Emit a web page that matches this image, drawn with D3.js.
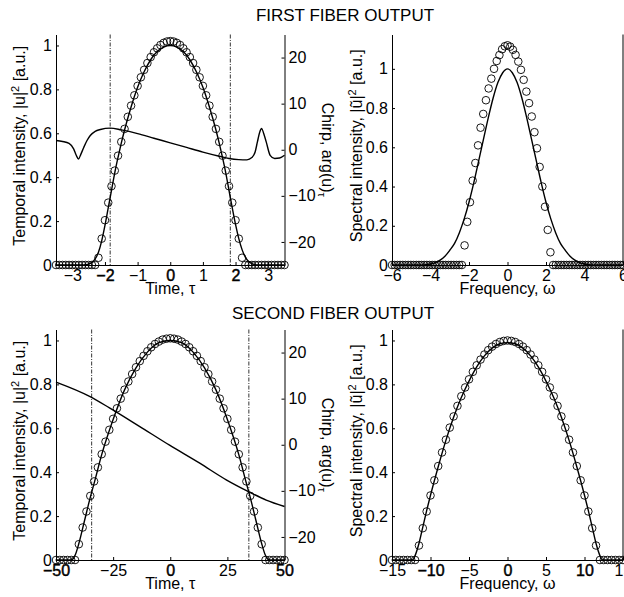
<!DOCTYPE html>
<html><head><meta charset="utf-8">
<script src="https://cdn.jsdelivr.net/npm/d3@7"></script>
<style>
body{margin:0;background:#fff;}
svg{display:block;font-family:"Liberation Sans",Arial,Helvetica,sans-serif;}
</style></head><body>
<svg id="chart" width="624" height="597"></svg>
<script>
// ---------- DATA ----------
const titles = ["FIRST FIBER OUTPUT", "SECOND FIBER OUTPUT"];

// Tick values
const timeTicks1 = [-3, -2, -1, 0, 1, 2, 3];
const timeTicks2 = [-50, -25, 0, 25, 50];
const freqTicks1 = [-6, -4, -2, 0, 2, 4, 6];
const freqTicks2 = [-15, -10, -5, 0, 5, 10, 15];
const intensityTicks = [0, 0.2, 0.4, 0.6, 0.8, 1];
const chirpTicks = [-20, -10, 0, 10, 20];
const boldTime1 = [-2, 0, 2];
const boldTime2 = [-50, 0, 50];
const boldFreq1 = [];
const boldFreq2 = [-10, 0, 10];

// First fiber output: temporal intensity (circles = fit, line = simulation)
const tau1Grid = [-3.5,-3.4,-3.3,-3.2,-3.1,-3.0,-2.9,-2.8,-2.7,-2.6,-2.5,-2.4,-2.3,-2.2,-2.1,-2.0,-1.9,-1.8,-1.7,-1.6,-1.5,-1.4,-1.3,-1.2,-1.1,-1.0,-0.9,-0.8,-0.7,-0.6,-0.5,-0.4,-0.3,-0.2,-0.1,0,0.1,0.2,0.3,0.4,0.5,0.6,0.7,0.8,0.9,1.0,1.1,1.2,1.3,1.4,1.5,1.6,1.7,1.8,1.9,2.0,2.1,2.2,2.3,2.4,2.5,2.6,2.7,2.8,2.9,3.0,3.1,3.2,3.3,3.4,3.5];
const int1Circles = [0,0,0,0,0,0,0,0,0,0,0,0,0,0.033,0.120,0.204,0.284,0.359,0.430,0.498,0.561,0.620,0.675,0.726,0.773,0.816,0.855,0.889,0.920,0.947,0.969,0.987,1.002,1.012,1.018,1.020,1.018,1.012,1.002,0.987,0.969,0.947,0.920,0.889,0.855,0.816,0.773,0.726,0.675,0.620,0.561,0.498,0.430,0.359,0.284,0.204,0.120,0.033,0,0,0,0,0,0,0,0,0,0,0,0,0];
const tau1Line = [-3.5,-2.7,-2.6,-2.5,-2.4,-2.3,-2.2,-2.1,-2.0,-1.9,-1.8,-1.7,-1.6,-1.5,-1.4,-1.2,-1.0,-0.8,-0.6,-0.4,-0.2,0,0.2,0.4,0.6,0.8,1.0,1.2,1.4,1.5,1.6,1.7,1.8,1.9,2.0,2.1,2.2,2.3,2.4,2.5,2.6,2.7,3.5];
const int1Line = [0,0,0.001,0.004,0.012,0.028,0.058,0.11,0.18,0.26,0.34,0.42,0.49,0.555,0.615,0.72,0.81,0.88,0.935,0.972,0.993,1.0,0.993,0.972,0.935,0.88,0.81,0.72,0.615,0.555,0.49,0.42,0.34,0.26,0.185,0.12,0.07,0.036,0.016,0.006,0.002,0,0];
const tau1Chirp = [-3.5,-3.3,-3.1,-2.96,-2.88,-2.81,-2.74,-2.65,-2.55,-2.45,-2.3,-2.14,-1.84,-1.5,-1.0,-0.5,0,0.5,1.0,1.5,1.8,2.1,2.35,2.5,2.6,2.67,2.74,2.8,2.86,2.94,3.06,3.2,3.35,3.5];
const chirp1 = [2.0,1.8,1.4,0.2,-1.2,-2.0,-1.0,0.5,2.0,3.1,4.0,4.4,4.7,4.3,3.5,2.5,1.5,0.5,-0.5,-1.4,-1.9,-2.15,-2.2,-1.7,-0.5,1.7,3.8,4.6,3.6,1.7,-1.2,-1.9,-1.8,-1.2];
const markers1 = [-1.84, 1.84];

// First fiber output: spectral intensity
const omega1Grid = [-6.00,-5.86,-5.72,-5.58,-5.44,-5.30,-5.16,-5.02,-4.88,-4.74,-4.60,-4.47,-4.33,-4.19,-4.05,-3.91,-3.77,-3.63,-3.49,-3.35,-3.21,-3.07,-2.93,-2.79,-2.65,-2.51,-2.37,-2.23,-2.09,-1.95,-1.81,-1.67,-1.53,-1.40,-1.26,-1.12,-0.98,-0.84,-0.70,-0.56,-0.42,-0.28,-0.14,0,0.14,0.28,0.42,0.56,0.70,0.84,0.98,1.12,1.26,1.40,1.53,1.67,1.81,1.95,2.09,2.23,2.37,2.51,2.65,2.79,2.93,3.07,3.21,3.35,3.49,3.63,3.77,3.91,4.05,4.19,4.33,4.47,4.60,4.74,4.88,5.02,5.16,5.30,5.44,5.58,5.72,5.86,6.00];
const spec1Circles = [0,0,0,0,0,0,0,0,0,0,0,0,0,0,0,0,0,0,0,0,0,0,0,0,0,0,0,0.10,0.22,0.32,0.43,0.52,0.61,0.70,0.77,0.84,0.90,0.95,1.00,1.04,1.07,1.10,1.115,1.12,1.113,1.097,1.071,1.037,0.995,0.944,0.884,0.825,0.757,0.677,0.595,0.50,0.40,0.297,0.179,0.065,0,0,0,0,0,0,0,0,0,0,0,0,0,0,0,0,0,0,0,0,0,0,0,0,0,0,0];
const omega1Line = [-6,-4.5,-4.25,-4.0,-3.75,-3.5,-3.25,-3.0,-2.75,-2.5,-2.25,-2.0,-1.75,-1.5,-1.25,-1.0,-0.75,-0.5,-0.25,0,0.25,0.5,0.75,1.0,1.25,1.5,1.75,2.0,2.25,2.5,2.75,3.0,3.25,3.5,3.75,4.0,4.25,4.5,6];
const spec1Line = [0,0,0.001,0.005,0.012,0.025,0.045,0.075,0.11,0.165,0.235,0.32,0.42,0.53,0.64,0.75,0.85,0.93,0.98,1.0,0.98,0.93,0.85,0.75,0.64,0.53,0.42,0.32,0.235,0.165,0.11,0.075,0.045,0.025,0.012,0.005,0.001,0,0];

// Second fiber output: temporal intensity
const tau2Grid = [-50,-48.33,-46.67,-45,-43.33,-41.67,-40,-38.33,-36.67,-35,-33.33,-31.67,-30,-28.33,-26.67,-25,-23.33,-21.67,-20,-18.33,-16.67,-15,-13.33,-11.67,-10,-8.33,-6.67,-5,-3.33,-1.67,0,1.67,3.33,5,6.67,8.33,10,11.67,13.33,15,16.67,18.33,20,21.67,23.33,25,26.67,28.33,30,31.67,33.33,35,36.67,38.33,40,41.67,43.33,45,46.67,48.33,50];
const int2Circles = [0,0,0,0,0,0,0.072,0.148,0.221,0.292,0.358,0.422,0.482,0.539,0.593,0.643,0.691,0.735,0.776,0.813,0.847,0.878,0.906,0.930,0.951,0.969,0.984,0.995,1.004,1.008,1.010,1.008,1.004,0.995,0.984,0.969,0.951,0.930,0.906,0.878,0.847,0.813,0.776,0.735,0.691,0.643,0.593,0.539,0.482,0.422,0.358,0.292,0.221,0.148,0.072,0,0,0,0,0,0];
const tau2Line = [-50,-43.5,-42.5,-41.5,-40,-37.5,-35,-33.3,-30,-25,-20,-15,-10,-5,0,5,10,15,20,25,30,33.3,35,37.5,40,41.5,42.5,43.5,50];
const int2Line = [0,0,0.006,0.025,0.075,0.18,0.285,0.35,0.48,0.64,0.775,0.875,0.947,0.99,1.0,0.99,0.947,0.875,0.775,0.64,0.48,0.35,0.285,0.18,0.075,0.025,0.006,0,0];
const tau2Chirp = [-50,-35.3,-26.6,-13.5,-0.3,12.9,24.5,34,42,50];
const chirp2 = [13.6,10.5,8.0,4.0,-0.1,-4.0,-7.6,-10.1,-12.0,-13.4];
const markers2 = [-34.4, 34.4];

// Second fiber output: spectral intensity
const omega2Grid = [-15,-14.5,-14,-13.5,-13,-12.5,-12,-11.5,-11,-10.5,-10,-9.5,-9,-8.5,-8,-7.5,-7,-6.5,-6,-5.5,-5,-4.5,-4,-3.5,-3,-2.5,-2,-1.5,-1,-0.5,0,0.5,1,1.5,2,2.5,3,3.5,4,4.5,5,5.5,6,6.5,7,7.5,8,8.5,9,9.5,10,10.5,11,11.5,12,12.5,13,13.5,14,14.5,15];
const spec2Circles = [0,0,0,0,0,0,0,0.066,0.145,0.221,0.294,0.363,0.428,0.490,0.548,0.603,0.654,0.702,0.746,0.786,0.823,0.857,0.887,0.913,0.936,0.956,0.972,0.984,0.993,0.998,1.0,0.998,0.993,0.984,0.972,0.956,0.936,0.913,0.887,0.857,0.823,0.786,0.746,0.702,0.654,0.603,0.548,0.490,0.428,0.363,0.294,0.221,0.145,0.066,0,0,0,0,0,0,0];
const omega2Line = [-15,-12.5,-12.2,-12,-11.5,-11,-10.5,-10,-9,-8,-7,-6,-5,-4,-3,-2,-1,0,1,2,3,4,5,6,7,8,9,10,10.5,11,11.5,12,12.2,12.5,15];
const spec2Line = [0,0,0.005,0.02,0.075,0.15,0.225,0.295,0.425,0.545,0.65,0.74,0.815,0.88,0.93,0.965,0.985,0.99,0.985,0.965,0.93,0.88,0.815,0.74,0.65,0.545,0.425,0.295,0.225,0.15,0.075,0.02,0.005,0,0];

// ---------- DRAWING ----------
const svg = d3.select("#chart");
const FS = 16;
const fmt = d => String(d).replace("-", "\u2212");
const zip = (xs, ys) => xs.map((v, i) => [v, ys[i]]);

function styleAxis(sel, bold) {
  sel.attr("font-size", FS).attr("font-family", null);
  sel.select(".domain").attr("stroke", "#000").attr("stroke-width", 1);
  sel.selectAll(".tick line").attr("stroke", "#000");
  sel.selectAll(".tick text").attr("fill", "#000");
  if (bold) sel.selectAll(".tick text").filter(d => bold.includes(d))
    .attr("stroke", "#000").attr("stroke-width", 0.45);
}

function drawPanel(p) {
  const g = svg.append("g");
  const x = d3.scaleLinear().domain(p.xDomain).range([p.left, p.right]);
  const y = d3.scaleLinear().domain(p.yDomain).range([p.bottom, p.top]);

  g.append("g").attr("transform", `translate(0,${p.bottom})`)
    .call(d3.axisBottom(x).tickValues(p.xTicks).tickFormat(fmt)
      .tickSizeInner(-3).tickSizeOuter(0).tickPadding(5))
    .call(s => styleAxis(s, p.bold));
  g.append("g").attr("transform", `translate(${p.left},0)`)
    .call(d3.axisLeft(y).tickValues(intensityTicks).tickFormat(fmt)
      .tickSizeInner(-3).tickSizeOuter(0).tickPadding(4))
    .call(s => styleAxis(s, null));

  let yc = null;
  if (p.chirp) {
    yc = d3.scaleLinear().domain([-25, 25]).range([p.bottom, p.top]);
    g.append("g").attr("transform", `translate(${p.right},0)`)
      .call(d3.axisRight(yc).tickValues(chirpTicks).tickFormat(fmt)
        .tickSizeInner(-3).tickSizeOuter(0).tickPadding(4))
      .call(s => styleAxis(s, null));
  } else {
    g.append("line").attr("x1", p.right).attr("x2", p.right)
      .attr("y1", p.top).attr("y2", p.bottom).attr("stroke", "#000").attr("stroke-width", 1);
  }

  if (p.markers) {
    g.selectAll(".mk").data(p.markers).join("line")
      .attr("x1", d => x(d)).attr("x2", d => x(d))
      .attr("y1", p.top).attr("y2", p.bottom)
      .attr("stroke", "#000").attr("stroke-width", 0.8)
      .attr("stroke-dasharray", "4,1.5,1,1.5");
  }

  const line = d3.line().x(d => x(d[0])).y(d => y(d[1])).curve(d3.curveMonotoneX);
  g.append("path").datum(zip(p.lineX, p.lineY)).attr("d", line)
    .attr("fill", "none").attr("stroke", "#000").attr("stroke-width", 1.4);

  if (p.chirp) {
    const cl = d3.line().x(d => x(d[0])).y(d => yc(d[1])).curve(d3.curveMonotoneX);
    g.append("path").datum(zip(p.chirp[0], p.chirp[1])).attr("d", cl)
      .attr("fill", "none").attr("stroke", "#000").attr("stroke-width", 1.4);
  }

  g.selectAll(".pt").data(zip(p.circX, p.circY)).join("circle")
    .attr("cx", d => x(d[0])).attr("cy", d => y(d[1])).attr("r", 3.8)
    .attr("fill", "none").attr("stroke", "#000").attr("stroke-width", 0.9);

  g.append("text").attr("x", (p.left + p.right) / 2).attr("y", p.bottom + 28.5)
    .attr("text-anchor", "middle").attr("font-size", FS).text(p.xLabel);

  const yl = g.append("text").attr("font-size", FS).attr("text-anchor", "middle")
    .attr("transform", `translate(${p.yLabelX},${(p.top + p.bottom) / 2 - 4}) rotate(-90)`);
  yl.append("tspan").text(p.yLabelMain);
  yl.append("tspan").attr("dy", -6).attr("font-size", 11).text("2");
  yl.append("tspan").attr("dy", 6).text(" [a.u.]");

  if (p.chirp) {
    const cl = g.append("text").attr("font-size", FS).attr("text-anchor", "middle")
      .attr("transform", `translate(${p.right + 37},${(p.top + p.bottom) / 2}) rotate(90)`);
    cl.append("tspan").text("Chirp, arg(u)");
    cl.append("tspan").attr("dy", 4).attr("font-size", 11).text("\u03c4");
  }
}

const rowTop = [34.5, 329.5];
const rowBottom = [265, 560];

drawPanel({left:56, right:284.5, top:rowTop[0], bottom:rowBottom[0], xDomain:[-3.5,3.5], yDomain:[0,1.05],
  xTicks:timeTicks1, bold:boldTime1, xLabel:"Time, \u03c4", yLabelX:25, yLabelMain:"Temporal intensity, |u|",
  circX:tau1Grid, circY:int1Circles, lineX:tau1Line, lineY:int1Line, chirp:[tau1Chirp, chirp1], markers:markers1});
drawPanel({left:392, right:623, top:rowTop[0], bottom:rowBottom[0], xDomain:[-6,6], yDomain:[0,1.175],
  xTicks:freqTicks1, bold:boldFreq1, xLabel:"Frequency, \u03c9", yLabelX:362, yLabelMain:"Spectral intensity, |\u0169|",
  circX:omega1Grid, circY:spec1Circles, lineX:omega1Line, lineY:spec1Line});
drawPanel({left:56, right:284.5, top:rowTop[1], bottom:rowBottom[1], xDomain:[-50,50], yDomain:[0,1.05],
  xTicks:timeTicks2, bold:boldTime2, xLabel:"Time, \u03c4", yLabelX:25, yLabelMain:"Temporal intensity, |u|",
  circX:tau2Grid, circY:int2Circles, lineX:tau2Line, lineY:int2Line, chirp:[tau2Chirp, chirp2], markers:markers2});
drawPanel({left:392, right:623, top:rowTop[1], bottom:rowBottom[1], xDomain:[-15,15], yDomain:[0,1.05],
  xTicks:freqTicks2, bold:boldFreq2, xLabel:"Frequency, \u03c9", yLabelX:362, yLabelMain:"Spectral intensity, |\u0169|",
  circX:omega2Grid, circY:spec2Circles, lineX:omega2Line, lineY:spec2Line});

svg.append("text").attr("x", 345).attr("y", 20.5).attr("text-anchor", "middle")
  .attr("font-size", 17).text(titles[0]);
svg.append("text").attr("x", 333).attr("y", 319).attr("text-anchor", "middle")
  .attr("font-size", 17).text(titles[1]);
</script>
</body></html>
